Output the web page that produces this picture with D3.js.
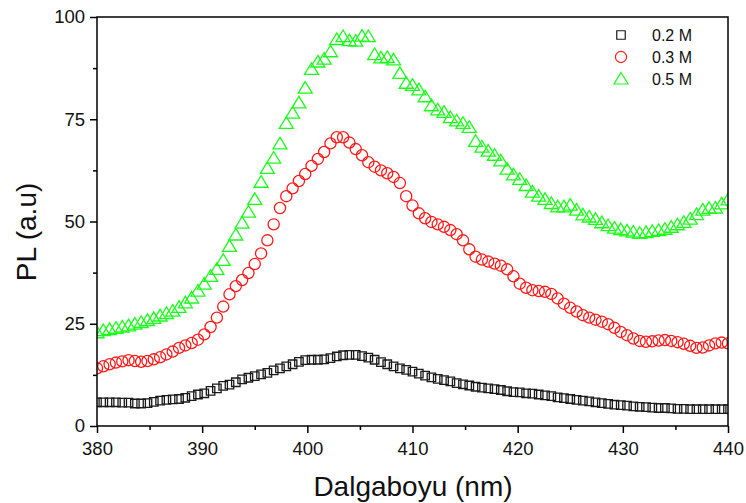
<!DOCTYPE html>
<html>
<head>
<meta charset="utf-8">
<script src="https://cdn.jsdelivr.net/npm/d3@7"></script>
<style>
  html, body { margin: 0; padding: 0; background: #fff; }
  svg { display: block; font-family: "Liberation Sans", Arial, sans-serif; }
</style>
</head>
<body>
<svg id="chart" width="746" height="503"></svg>
<script>
// ---- data ----
const wavelengthStart = 380;
const wavelengthStep = 0.6;
const seriesNames = ["0.2 M", "0.3 M", "0.5 M"];
const xTicks = [380, 390, 400, 410, 420, 430, 440];
const yTicks = [0, 25, 50, 75, 100];

const pl02 = [5.8,5.8,5.8,5.8,5.7,5.7,5.5,5.5,5.6,5.9,6.2,6.4,6.5,6.6,6.9,7.3,7.7,8.0,8.6,9.2,
  9.8,10.1,10.7,11.4,11.8,12.2,12.6,13.0,13.6,14.1,14.6,15.1,15.7,16.1,16.2,16.2,16.3,16.6,17.0,17.3,
  17.4,17.4,17.1,16.7,16.2,15.6,15.1,14.6,14.1,13.7,13.3,12.8,12.3,11.9,11.5,11.2,10.9,10.5,10.2,9.9,
  9.6,9.4,9.2,9.0,8.8,8.5,8.3,8.2,8.0,7.9,7.7,7.5,7.3,7.0,6.8,6.6,6.4,6.2,6.0,5.8,
  5.6,5.4,5.2,5.1,5.0,4.8,4.7,4.6,4.5,4.4,4.4,4.3,4.2,4.2,4.1,4.1,4.1,4.1,4.1,4.1,4.1];

const pl03 = [14.1,14.6,15.1,15.5,15.8,16.1,15.9,15.7,15.9,16.3,16.8,17.5,18.2,19.1,19.7,20.3,21.1,22.4,24.2,26.5,
  29.2,32.2,34.2,35.7,37.4,39.6,42.2,45.4,49.3,53.3,56.2,58.1,59.9,61.6,63.6,65.3,67.0,69.1,70.6,70.6,
  69.3,67.7,66.2,64.5,63.4,62.5,61.8,60.9,59.4,56.2,53.9,52.0,50.8,49.9,49.3,48.7,47.9,46.9,45.4,43.2,
  41.4,40.7,40.2,39.7,39.2,38.3,36.6,34.8,33.8,33.2,33.0,32.8,32.3,31.2,29.9,28.9,28.0,27.1,26.5,26.0,
  25.5,24.9,24.0,23.0,22.2,21.4,20.8,20.6,20.7,20.9,21.0,20.8,20.5,20.1,19.6,19.1,19.2,19.7,20.2,20.4,20.2];

const pl05 = [22.8,23.3,23.6,23.9,24.2,24.5,24.9,25.3,25.8,26.3,26.9,27.5,28.1,29.0,30.1,31.3,33.0,34.7,36.6,38.3,
  40.5,43.9,46.7,49.6,52.3,55.4,59.6,63.0,65.5,69.0,74.0,76.5,79.0,82.6,87.2,89.0,89.7,91.5,94.5,95.2,
  94.2,94.1,95.3,95.2,90.8,90.0,90.1,89.5,86.2,83.8,83.3,82.2,80.5,78.3,77.3,76.7,75.4,74.6,74.0,73.0,
  69.6,68.2,67.2,66.2,64.8,62.8,61.4,60.3,58.8,57.2,56.2,55.4,54.4,53.6,53.6,54.0,52.8,51.6,51.1,50.5,
  49.7,49.0,48.4,48.0,47.7,47.4,47.1,47.3,47.6,47.8,48.1,48.6,49.2,49.8,50.6,51.7,52.8,53.2,53.3,54.3,55.3];

const seriesValues = [pl02, pl03, pl05];
const seriesColors = ["#1a1a1a", "#ff1a1a", "#1aff1a"];
const seriesShapes = ["square", "circle", "triangle"];

// ---- layout ----
const margin = {left: 97, right: 18, top: 17, bottom: 77};
const W = 746, H = 503;
const pw = W - margin.left - margin.right;
const ph = H - margin.top - margin.bottom;

const svg = d3.select("#chart");
const x = d3.scaleLinear().domain([380, 440]).range([margin.left, margin.left + pw]);
const y = d3.scaleLinear().domain([0, 100]).range([margin.top + ph, margin.top]);

svg.append("defs").append("clipPath").attr("id", "plotclip")
  .append("rect").attr("x", margin.left).attr("y", margin.top).attr("width", pw).attr("height", ph);

function markerPath(shape) {
  if (shape === "square") return d3.symbol().type(d3.symbolSquare).size(72)();
  if (shape === "circle") return d3.symbol().type(d3.symbolCircle).size(98)();
  return "M0,-6.6L7,5L-7,5Z";
}

const plot = svg.append("g").attr("clip-path", "url(#plotclip)");
seriesValues.forEach((vals, si) => {
  const pts = vals.map((v, i) => ({wl: wavelengthStart + i * wavelengthStep, v}));
  plot.append("g").selectAll("path").data(pts).enter().append("path")
    .attr("d", markerPath(seriesShapes[si]))
    .attr("transform", d => `translate(${x(d.wl)},${y(d.v)})`)
    .attr("fill", "none")
    .attr("stroke", seriesColors[si])
    .attr("stroke-width", 1.3);
});

// ---- axes ----
const xAxisMinor = d3.axisBottom(x).tickValues(d3.range(385, 440, 10)).tickSize(4).tickFormat("");
const xAxis = d3.axisBottom(x).tickValues(xTicks).tickSize(7).tickPadding(9).tickFormat(d3.format("d"));
const yAxisMinor = d3.axisLeft(y).tickValues([12.5, 37.5, 62.5, 87.5]).tickSize(4).tickFormat("");
const yAxis = d3.axisLeft(y).tickValues(yTicks).tickSize(7).tickPadding(5).tickFormat(d3.format("d"));

function styleAxis(g) {
  g.select(".domain").remove();
  g.selectAll("line").attr("stroke", "#000").attr("stroke-width", 1.5);
  g.selectAll("text").attr("fill", "#111").attr("font-size", 18.5)
    .attr("font-family", "Liberation Sans, Arial, sans-serif");
}
svg.append("g").attr("transform", `translate(0,${margin.top + ph})`).call(xAxisMinor).call(styleAxis);
svg.append("g").attr("transform", `translate(0,${margin.top + ph})`).call(xAxis).call(styleAxis);
svg.append("g").attr("transform", `translate(${margin.left},0)`).call(yAxisMinor).call(styleAxis);
svg.append("g").attr("transform", `translate(${margin.left},0)`).call(yAxis).call(styleAxis);

// frame
svg.append("rect").attr("x", margin.left).attr("y", margin.top).attr("width", pw).attr("height", ph)
  .attr("fill", "none").attr("stroke", "#000").attr("stroke-width", 1.5);

// titles
svg.append("text").attr("x", 413).attr("y", 496).attr("text-anchor", "middle")
  .attr("font-size", 28).attr("fill", "#111").text("Dalgaboyu (nm)");
svg.append("text").attr("transform", `translate(36,232) rotate(-90)`)
  .attr("text-anchor", "middle").attr("font-size", 28).attr("fill", "#111").text("PL (a.u)");

// legend
const legend = svg.append("g").attr("transform", "translate(621,35)");
seriesNames.forEach((name, i) => {
  const row = legend.append("g").attr("transform", `translate(0,${i * 22})`);
  row.append("path").attr("d", i === 2 ? "M0,-6.5L7,5L-7,5Z" : markerPath(seriesShapes[i]))
    .attr("fill", "none").attr("stroke", seriesColors[i]).attr("stroke-width", 1.2);
  row.append("text").attr("x", 31).attr("y", 6).attr("font-size", 16).attr("fill", "#111").text(name);
});
</script>
</body>
</html>
